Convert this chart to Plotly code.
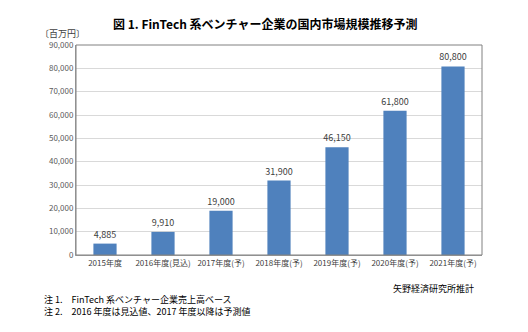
import plotly.graph_objects as go

categories = ["2015年度", "2016年度(見込)", "2017年度(予)", "2018年度(予)",
              "2019年度(予)", "2020年度(予)", "2021年度(予)"]
values = [4885, 9910, 19000, 31900, 46150, 61800, 80800]
tick_vals = [0, 10000, 20000, 30000, 40000, 50000, 60000, 70000, 80000, 90000]
tick_text = ["0", "10,000", "20,000", "30,000", "40,000", "50,000", "60,000",
             "70,000", "80,000", "90,000"]

FONT = "Noto Sans CJK JP"

fig = go.Figure(go.Bar(
    x=categories, y=values,
    marker=dict(color="#4F81BD", line=dict(width=0)),
    width=0.4,
    text=[f"{v:,}" for v in values],
    textposition="outside",
    constraintext="none",
    textfont=dict(size=9, color="#404040", family=FONT),
    cliponaxis=False,
))

W, H = 528, 332
l, r, t, b = 76, 46, 45, 77
pw, ph = W - l - r, H - t - b


def px_ann(text, px, py, size=9, color="#000000", xanchor="center"):
    return dict(text=text, xref="paper", yref="paper",
                x=(px - l) / pw, y=1 - (py - t) / ph,
                xanchor=xanchor, yanchor="middle", showarrow=False,
                font=dict(size=size, color=color, family=FONT))


fig.update_layout(
    width=W, height=H,
    margin=dict(l=l, r=r, t=t, b=b),
    paper_bgcolor="white", plot_bgcolor="white",
    showlegend=False,
    font=dict(family=FONT),
    xaxis=dict(showline=True, linecolor="#A0A0A0", linewidth=1,
               tickfont=dict(size=8, color="#404040"), ticks="",
               showgrid=False),
    yaxis=dict(range=[0, 90000], tickvals=tick_vals, ticktext=tick_text,
               showgrid=True, gridcolor="#D9D9D9", gridwidth=1,
               showline=True, linecolor="#A0A0A0", linewidth=1,
               tickfont=dict(size=8, color="#595959"), ticks="",
               zeroline=False),
    shapes=[
        dict(type="rect", xref="paper", yref="paper", x0=0, x1=1, y0=0, y1=1,
             line=dict(color="#808080", width=1)),
    ],
    annotations=[
        px_ann("<b>図 1. FinTech 系ベンチャー企業の国内市場規模推移予測</b>", 265, 24, size=12),
        px_ann("〔百万円〕", 38, 33, color="#404040", xanchor="left"),
        px_ann("矢野経済研究所推計", 476, 288, xanchor="right"),
        px_ann("注 1.　FinTech 系ベンチャー企業売上高ベース", 42, 299, xanchor="left"),
        px_ann("注 2.　2016 年度は見込値、2017 年度以降は予測値", 42, 311, xanchor="left"),
    ],
)

fig.write_html("out.html")
